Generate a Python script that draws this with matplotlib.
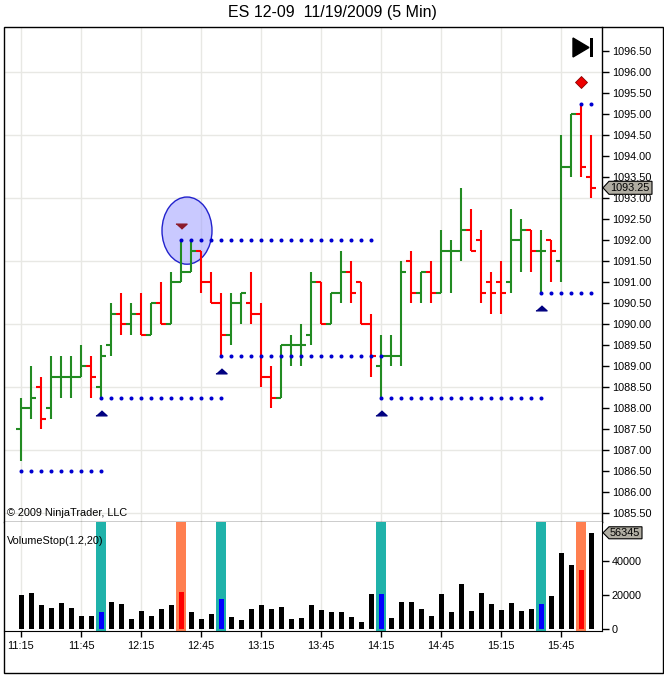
import matplotlib
matplotlib.use('Agg')
import matplotlib.pyplot as plt
import matplotlib.transforms as mtransforms
from matplotlib.patches import Ellipse, Polygon, Rectangle
from matplotlib.collections import LineCollection
from matplotlib.ticker import FuncFormatter, FixedLocator
import numpy as np
import pandas as pd

plt.rcParams['font.family'] = ['Liberation Sans', 'DejaVu Sans']

# ---------------- data ----------------
title = "ES 12-09  11/19/2009 (5 Min)"
bar_times = [t.strftime('%H:%M') for t in pd.date_range('2009-11-19 11:15', periods=58, freq='5min')]
tick_labels = ['11:15', '11:45', '12:15', '12:45', '13:15', '13:45', '14:15', '14:45', '15:15', '15:45']

bar_open = [1087.5, 1088.0, 1088.5, 1088.0, 1088.75, 1088.75, 1088.75, 1089.0, 1088.5, 1089.5,
            1090.25, 1090.0, 1090.25, 1089.75, 1090.5, 1090.0, 1091.0, 1091.25, 1091.75, 1091.0,
            1090.5, 1089.75, 1090.5, 1090.5, 1090.25, 1088.75, 1088.25, 1089.5, 1089.5, 1089.75,
            1091.0, 1090.0, 1090.75, 1091.25, 1091.0, 1090.0, 1089.0, 1089.25, 1089.25, 1091.5,
            1090.75, 1091.25, 1090.75, 1091.75, 1091.75, 1092.25, 1092.0, 1091.0, 1091.0, 1091.0,
            1092.0, 1092.25, 1091.75, 1092.0, 1091.5, 1093.75, 1095.0, 1093.5]
bar_high = [1088.25, 1089.0, 1088.75, 1089.25, 1089.25, 1089.25, 1089.5, 1089.25, 1089.5, 1090.5,
            1090.75, 1090.5, 1090.75, 1090.5, 1091.0, 1091.25, 1092.0, 1092.0, 1091.75, 1091.25,
            1090.75, 1090.75, 1090.75, 1091.25, 1090.5, 1089.0, 1089.5, 1089.75, 1090.0, 1091.25,
            1091.0, 1090.75, 1091.75, 1091.5, 1091.0, 1090.25, 1089.75, 1089.75, 1091.5, 1091.75,
            1091.25, 1091.5, 1092.25, 1092.0, 1093.25, 1092.75, 1092.25, 1091.25, 1091.5, 1092.75,
            1092.5, 1092.25, 1092.25, 1092.0, 1094.5, 1095.0, 1095.25, 1094.5]
bar_low = [1086.75, 1087.75, 1087.5, 1087.75, 1088.25, 1088.25, 1088.75, 1088.25, 1088.25, 1089.25,
           1089.75, 1089.75, 1089.75, 1089.75, 1090.0, 1090.0, 1091.0, 1091.25, 1090.75, 1090.5,
           1089.25, 1089.5, 1090.0, 1090.0, 1088.5, 1088.0, 1088.25, 1089.0, 1089.0, 1089.5,
           1090.0, 1090.0, 1090.5, 1090.5, 1090.0, 1088.75, 1088.25, 1089.0, 1089.0, 1090.5,
           1090.5, 1090.5, 1090.75, 1090.75, 1091.5, 1091.75, 1090.5, 1090.25, 1090.25, 1090.75,
           1091.25, 1091.25, 1090.75, 1091.0, 1091.0, 1093.5, 1093.5, 1093.0]
bar_close = [1088.0, 1088.25, 1087.75, 1088.75, 1088.75, 1088.75, 1089.0, 1088.75, 1089.25, 1090.25,
             1090.0, 1090.25, 1089.75, 1090.5, 1090.0, 1091.0, 1091.25, 1091.75, 1091.0, 1090.5,
             1089.75, 1090.5, 1090.75, 1090.25, 1088.75, 1088.25, 1089.5, 1089.5, 1089.5, 1091.0,
             1090.0, 1090.75, 1091.25, 1090.75, 1090.0, 1089.25, 1089.25, 1089.25, 1091.25, 1090.75,
             1091.25, 1090.75, 1091.75, 1091.75, 1092.25, 1091.75, 1090.75, 1090.75, 1090.75, 1092.0,
             1092.25, 1091.75, 1091.75, 1091.75, 1093.75, 1095.0, 1093.75, 1093.25]
volume = [19900, 21100, 14000, 12300, 15200, 12300, 7800, 7800, 10000, 15800,
          14600, 5900, 10500, 7800, 11700, 14000, 21700, 10000, 5900, 8800,
          17600, 7000, 5300, 11700, 14000, 11700, 12900, 5900, 6400, 14000,
          11100, 10000, 10000, 7000, 4100, 20500, 20500, 6400, 15800, 15800,
          11700, 7600, 20500, 10000, 26300, 10500, 21100, 14600, 11100, 15200,
          10500, 11700, 14600, 19300, 44500, 37500, 34500, 56345]

signal_up = [8, 20, 36, 52]      # blue up triangles / teal volume columns
signal_down = [16]                # down triangle / orange volume column
signal_diamond = [56]             # diamond / orange volume column

stop_start = [0, 8, 16, 20, 36, 52, 56]
stop_end = [8, 20, 35, 36, 52, 57, 57]
stop_level = [1086.5, 1088.25, 1092.0, 1089.25, 1088.25, 1090.75, 1095.25]

ellipse_bar = 16.6
ellipse_price = 1092.23
ellipse_width_bars = 5.0
ellipse_height_pts = 1.6

last_price = bar_close[-1]
last_volume = volume[-1]

price_ticks = np.arange(1085.5, 1096.51, 0.5)
price_grid = np.arange(1085.5, 1096.51, 1.5)
volume_ticks = [0, 20000, 40000]

# ---------------- style ----------------
UP = '#228b22'
DN = '#ff0000'
DOT = '#0000d0'
TEAL = '#20b2aa'
CORAL = '#ff7f50'
GRID = '#e8e8e4'
FS = 7.8

W, H = 664, 675
fig = plt.figure(figsize=(W / 100, H / 100), dpi=100)
fig.patch.set_facecolor('white')


def fr(x0, y0, x1, y1):
    return [x0 / W, 1 - y1 / H, (x1 - x0) / W, (y1 - y0) / H]


ax = fig.add_axes(fr(4, 27, 602, 522))
ax2 = fig.add_axes(fr(4, 522, 602, 631), sharex=ax)

n = len(bar_open)
x = np.arange(n)
ax.set_xlim(-1.7, 58.1)
ax.set_ylim(1085.29, 1097.08)

# grid
tick_pos = [bar_times.index(t) for t in tick_labels]
for tp in tick_pos:
    ax.axvline(tp, color=GRID, lw=1, zorder=0)
    ax2.axvline(tp, color=GRID, lw=1, zorder=0)
for g in price_grid:
    ax.axhline(g, color=GRID, lw=1, zorder=0)

# ellipse drawing object
ax.add_patch(Ellipse((ellipse_bar, ellipse_price), ellipse_width_bars, ellipse_height_pts,
                     facecolor=(0.62, 0.62, 1.0, 0.55), edgecolor='#2222cc', lw=1.0, zorder=1))

# OHLC bars
segs, cols = [], []
for i in range(n):
    o, h, l, c = bar_open[i], bar_high[i], bar_low[i], bar_close[i]
    col = UP if c >= o else DN
    segs += [[(i, l), (i, h)], [(i - 0.5, o), (i, o)], [(i, c), (i + 0.5, c)]]
    cols += [col] * 3
lc = LineCollection(segs, colors=cols, linewidths=1.5, capstyle='butt', zorder=3)
ax.add_collection(lc)

# stop dots
for s, e, lev in zip(stop_start, stop_end, stop_level):
    xs = np.arange(s, e + 1)
    ax.plot(xs, [lev] * len(xs), linestyle='none', marker='o', ms=2.9,
            color=DOT, mew=0, zorder=4)

# signal markers
up_tri = [(-1, -0.42), (1, -0.42), (0, 0.48)]
dn_tri = [(-1, 0.42), (1, 0.42), (0, -0.48)]
ax.plot(signal_up, [bar_low[i] - 0.36 for i in signal_up], linestyle='none',
        marker=up_tri, ms=8, color='#000080', zorder=5)
ax.plot(signal_down, [bar_high[i] + 0.33 for i in signal_down], linestyle='none',
        marker=dn_tri, ms=8, color='#8b1a2a', zorder=5)
ax.plot(signal_diamond, [bar_high[i] + 0.53 for i in signal_diamond], linestyle='none',
        marker='D', ms=6, color='#ee0000', mec='#880000', mew=0.6, zorder=5)

# price axis
ax.yaxis.tick_right()
ax.yaxis.set_major_locator(FixedLocator(price_ticks))
ax.yaxis.set_major_formatter(FuncFormatter(lambda v, p: f'{v:.2f}'))
ax.tick_params(axis='y', direction='out', length=5, width=1, labelsize=FS, pad=2, colors='black')
ax.tick_params(axis='x', bottom=False, labelbottom=False)
for sp in ['left', 'top']:
    ax.spines[sp].set_visible(False)
ax.spines['right'].set_linewidth(1)
ax.spines['bottom'].set_linewidth(1)

ax.text(0.005, 0.018, '\u00a9 2009 NinjaTrader, LLC', transform=ax.transAxes,
        fontsize=FS, va='center', ha='left')

# last price tag
blend = mtransforms.blended_transform_factory(ax.transAxes, ax.transData)
tag_tr = fig.dpi_scale_trans + mtransforms.ScaledTranslation(1.0, last_price, blend)
tag = Polygon(np.array([(1, 0), (7, 6.5), (50, 6.5), (50, -6.5), (7, -6.5)]) / 100,
              closed=True, facecolor='#b0ada2', edgecolor='black', lw=0.8,
              transform=tag_tr, clip_on=False, zorder=10)
fig.add_artist(tag)
fig.text(8.5 / 100, 0, f'{last_price:.2f}', transform=tag_tr, fontsize=FS,
         va='center', ha='left', zorder=11)

# ---------------- volume panel ----------------
ax2.set_ylim(-1170, 62660)
for i in signal_up:
    ax2.axvspan(i - 0.5, i + 0.5, color=TEAL, lw=0, zorder=1)
for i in signal_down + signal_diamond:
    ax2.axvspan(i - 0.5, i + 0.5, color=CORAL, lw=0, zorder=1)
vcols = []
for i in range(n):
    if i in signal_up:
        vcols.append('#0000ff')
    elif i in signal_down or i in signal_diamond:
        vcols.append('#ff0000')
    else:
        vcols.append('black')
ax2.bar(x, volume, width=0.5, color=vcols, zorder=3)

ax2.yaxis.tick_right()
ax2.yaxis.set_major_locator(FixedLocator(volume_ticks))
ax2.yaxis.set_major_formatter(FuncFormatter(lambda v, p: f'{int(v)}'))
ax2.tick_params(axis='y', direction='out', length=5, width=1, labelsize=FS, pad=2)
ax2.set_xticks(tick_pos)
ax2.set_xticklabels(tick_labels)
ax2.tick_params(axis='x', direction='out', length=4, width=1, labelsize=FS, pad=3)
for sp in ['left', 'top']:
    ax2.spines[sp].set_visible(False)

ax2.text(0.005, 0.826, 'VolumeStop(1.2,20)', transform=ax2.transAxes,
         fontsize=FS, va='center', ha='left')

blend2 = mtransforms.blended_transform_factory(ax2.transAxes, ax2.transData)
tag_tr2 = fig.dpi_scale_trans + mtransforms.ScaledTranslation(1.0, last_volume, blend2)
tag2 = Polygon(np.array([(1, 0), (7, 6), (40, 6), (40, -6), (7, -6)]) / 100,
               closed=True, facecolor='#b0ada2', edgecolor='black', lw=0.8,
               transform=tag_tr2, clip_on=False, zorder=10)
fig.add_artist(tag2)
fig.text(8 / 100, 0, f'{last_volume}', transform=tag_tr2, fontsize=FS,
         va='center', ha='left', zorder=11)

# ---------------- decorations ----------------
fig.text(0.5, 1 - 12 / H, title, ha='center', va='center', fontsize=11.5)

fig.add_artist(Rectangle((4 / W, 2 / H), 659 / W, 646 / H, transform=fig.transFigure,
                         fill=False, edgecolor='black', lw=1))
# "go to end" glyph
tri = Polygon([(573 / W, 1 - 38 / H), (573 / W, 1 - 57 / H), (589 / W, 1 - 47.5 / H)],
              closed=True, transform=fig.transFigure, facecolor='black', edgecolor='black')
fig.add_artist(tri)
fig.add_artist(Rectangle((590 / W, 1 - 57 / H), 3 / W, 19 / H, transform=fig.transFigure,
                         facecolor='black', edgecolor='none'))

fig.savefig('out.png', dpi=100, facecolor='white')
